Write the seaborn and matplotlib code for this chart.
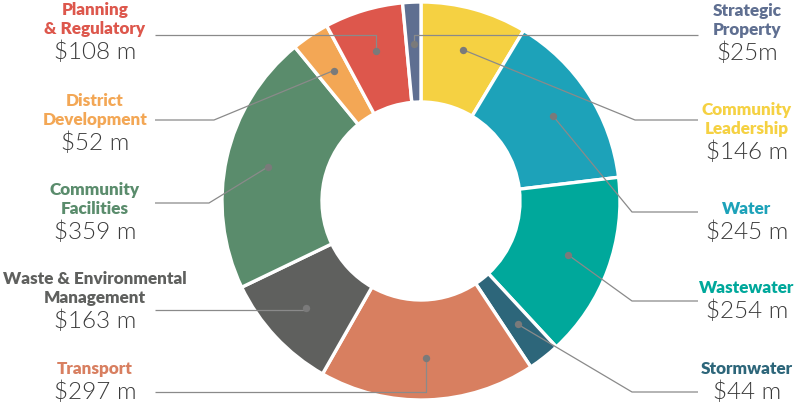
import numpy as np
import matplotlib
matplotlib.use("Agg")
import matplotlib.pyplot as plt
import seaborn as sns

# ---- data ----
categories = ["Community\nLeadership", "Water", "Wastewater", "Stormwater", "Transport",
              "Waste & Environmental\nManagement", "Community\nFacilities",
              "District\nDevelopment", "Planning\n& Regulatory", "Strategic\nProperty"]
values = [146, 245, 254, 44, 297, 163, 359, 52, 108, 25]
value_labels = ["$146 m", "$245 m", "$254 m", "$44 m", "$297 m", "$163 m", "$359 m",
                "$52 m", "$108 m", "$25m"]
hex_colors = ["#F5D142", "#1DA2B9", "#00A89B", "#2D667A", "#D87F60",
              "#5F605E", "#5A8C6C", "#F3A755", "#DD574C", "#5F6F91"]

# ---- layout (pixel coordinates, y measured from top of image) ----
W, H = 798, 416
side = ["R", "R", "R", "R", "L", "L", "L", "L", "L", "R"]
value_y = [152, 232, 311, 392, 392, 321, 232, 143, 52, 53]
leader_y = [120, 212, 301, 392, 392, 310, 203, 120, 35, 35]
elbow_x = [635, 632, 632, 632, None, None, 209, 214, None, None]
text_cx = {"L": 95, "R": 747}
line_end = {"L": 155, "R": 698}

sns.set_theme(style="white")
plt.rcParams["font.family"] = ["Lato", "DejaVu Sans"]
palette = sns.color_palette(hex_colors)

fig = plt.figure(figsize=(W / 100, H / 100), dpi=100)
ax = fig.add_axes([0, 0, 1, 1])

cx, cy = 421, H - 201
R_out, ring = 199, 100
wedges, _ = ax.pie(values, colors=palette, startangle=90, counterclock=False,
                   radius=R_out, center=(cx, cy),
                   wedgeprops=dict(width=ring, edgecolor="white", linewidth=2.4))
ax.set_xlim(0, W)
ax.set_ylim(0, H)
ax.set_aspect("equal")
ax.axis("off")

r_dot = 157
line_col = "#8a8a8a"
for i, w in enumerate(wedges):
    th = np.deg2rad((w.theta1 + w.theta2) / 2)
    dx, dy = cx + r_dot * np.cos(th), cy + r_dot * np.sin(th)
    ly = H - leader_y[i]
    s = side[i]
    ex = elbow_x[i] if elbow_x[i] is not None else dx
    ax.plot([line_end[s], ex, dx], [ly, ly, dy], color=line_col, lw=0.9,
            solid_capstyle="butt", zorder=3)
    ax.scatter([dx], [dy], s=28, color="#7a7a7a", zorder=4, linewidths=0)

    # labels
    vy = H - value_y[i]
    ax.text(text_cx[s], vy, value_labels[i], ha="center", va="center",
            fontsize=17.5, fontweight=300, color="#3a3a3a")
    lines = categories[i].split("\n")
    for k, ln in enumerate(reversed(lines)):
        ax.text(text_cx[s], vy + 23 + 19 * k, ln, ha="center", va="center",
                fontsize=12.3, fontweight="heavy", color=hex_colors[i])

fig.savefig("out.png", dpi=100, facecolor="white")
